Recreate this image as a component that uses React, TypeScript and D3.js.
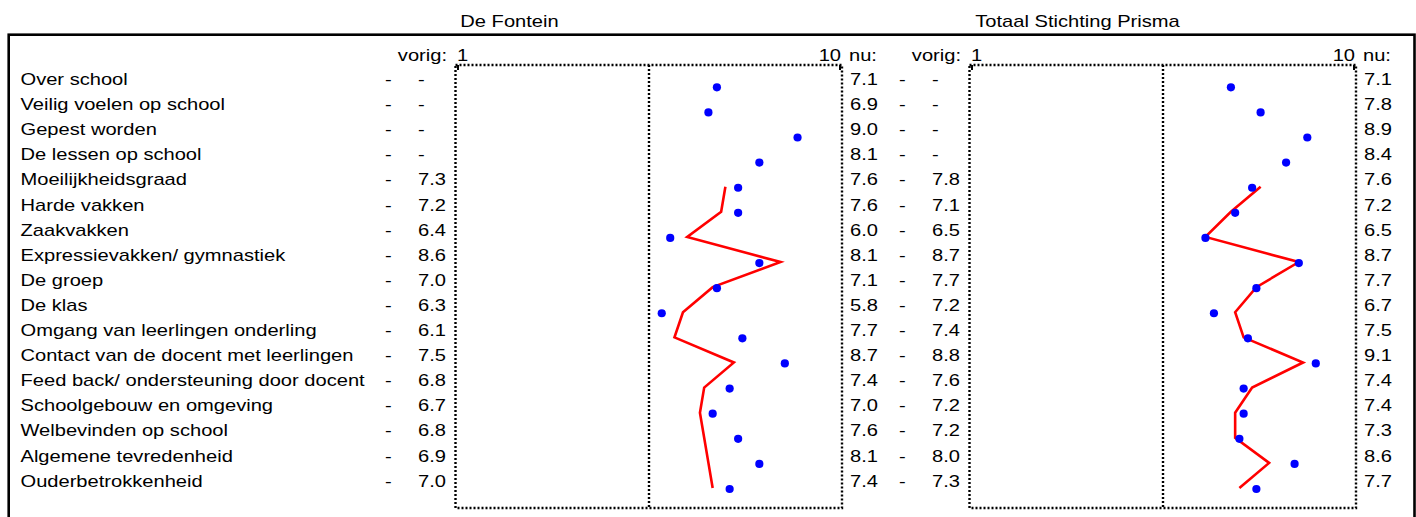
import React from "react";
import * as d3 from "d3";

const categories: string[] = [
  "Over school",
  "Veilig voelen op school",
  "Gepest worden",
  "De lessen op school",
  "Moeilijkheidsgraad",
  "Harde vakken",
  "Zaakvakken",
  "Expressievakken/ gymnastiek",
  "De groep",
  "De klas",
  "Omgang van leerlingen onderling",
  "Contact van de docent met leerlingen",
  "Feed back/ ondersteuning door docent",
  "Schoolgebouw en omgeving",
  "Welbevinden op school",
  "Algemene tevredenheid",
  "Ouderbetrokkenheid",
];

const fonteinVorig: (number | null)[] = [null, null, null, null, 7.3, 7.2, 6.4, 8.6, 7.0, 6.3, 6.1, 7.5, 6.8, 6.7, 6.8, 6.9, 7.0];
const fonteinNu: number[] = [7.1, 6.9, 9.0, 8.1, 7.6, 7.6, 6.0, 8.1, 7.1, 5.8, 7.7, 8.7, 7.4, 7.0, 7.6, 8.1, 7.4];
const prismaVorig: (number | null)[] = [null, null, null, null, 7.8, 7.1, 6.5, 8.7, 7.7, 7.2, 7.4, 8.8, 7.6, 7.2, 7.2, 8.0, 7.3];
const prismaNu: number[] = [7.1, 7.8, 8.9, 8.4, 7.6, 7.2, 6.5, 8.7, 7.7, 6.7, 7.5, 9.1, 7.4, 7.4, 7.3, 8.6, 7.7];

const panelTitles: string[] = ["De Fontein", "Totaal Stichting Prisma"];
const scaleMin = 1;
const scaleMax = 10;

const FONT = "'Liberation Sans', Arial, Helvetica, sans-serif";
const FS = 17;
const SX = 1.183;

function T({ x, y, anchor = "start", children }: { x: number; y: number; anchor?: string; children: React.ReactNode }) {
  return (
    <text
      transform={`translate(${x},${y}) scale(${SX},1)`}
      textAnchor={anchor as any}
      fontFamily={FONT}
      fontSize={FS}
      fill="#000"
    >
      {children}
    </text>
  );
}

const n = categories.length;
const yDot = d3.scaleLinear().domain([0, n - 1]).range([87.3, 489]);
const yText = d3.scaleLinear().domain([0, n - 1]).range([85, 486.6]);

function Panel({ dx, vorig, nu }: { dx: number; vorig: (number | null)[]; nu: number[] }) {
  const x = d3.scaleLinear().domain([scaleMin, scaleMax]).range([458 + dx, 840 + dx]);
  const boxL = x(scaleMin) - 2.5;
  const boxR = x(scaleMax) + 2;
  const boxT = 65;
  const boxB = 508;
  const mid = x((scaleMin + scaleMax) / 2);
  const line = d3
    .line<number | null>()
    .defined((d) => d != null)
    .x((d) => x(d as number))
    .y((_, i) => yDot(i) - 1);
  const dotted = { stroke: "#000", strokeWidth: 2.4, strokeDasharray: "2 2", fill: "none" };
  return (
    <g>
      <T x={447 + dx} y={61} anchor="end">vorig:</T>
      <T x={x(scaleMin) - 1} y={61}>{String(scaleMin)}</T>
      <T x={x(scaleMax) + 1} y={61} anchor="end">{String(scaleMax)}</T>
      <T x={849 + dx} y={61}>nu:</T>
      <rect x={boxL} y={boxT} width={boxR - boxL} height={boxB - boxT} {...dotted} />
      <line x1={mid} x2={mid} y1={boxT} y2={boxB} {...dotted} />
      <line x1={x(scaleMin)} x2={x(scaleMin)} y1={boxT} y2={boxT + 5} stroke="#000" strokeWidth={2} />
      <line x1={x(scaleMax)} x2={x(scaleMax)} y1={boxT} y2={boxT + 5} stroke="#000" strokeWidth={2} />
      {categories.map((_, i) => (
        <g key={i}>
          <T x={385 + dx} y={yText(i)}>-</T>
          <T x={418 + dx} y={yText(i)}>{vorig[i] == null ? "-" : (vorig[i] as number).toFixed(1)}</T>
          <T x={850 + dx} y={yText(i)}>{nu[i].toFixed(1)}</T>
        </g>
      ))}
      <path d={line(vorig) || ""} fill="none" stroke="#ff0000" strokeWidth={2.6} strokeLinejoin="miter" />
      {nu.map((v, i) => (
        <circle key={i} cx={x(v)} cy={yDot(i)} r={4.1} fill="#0000ff" />
      ))}
    </g>
  );
}

export default function App() {
  return (
    <svg
      width={1416}
      height={517}
      style={{ position: "absolute", left: 0, top: 0, background: "#fff" }}
    >
      <rect x={0} y={0} width={1416} height={517} fill="#fff" />
      <T x={509.5} y={27.3} anchor="middle">{panelTitles[0]}</T>
      <T x={1077.5} y={27.3} anchor="middle">{panelTitles[1]}</T>
      <rect x={8.7} y={34.7} width={1405.8} height={520} fill="none" stroke="#000" strokeWidth={2.6} />
      {categories.map((c, i) => (
        <T key={c} x={20.5} y={yText(i)}>{c}</T>
      ))}
      <Panel dx={0} vorig={fonteinVorig} nu={fonteinNu} />
      <Panel dx={514} vorig={prismaVorig} nu={prismaNu} />
    </svg>
  );
}
